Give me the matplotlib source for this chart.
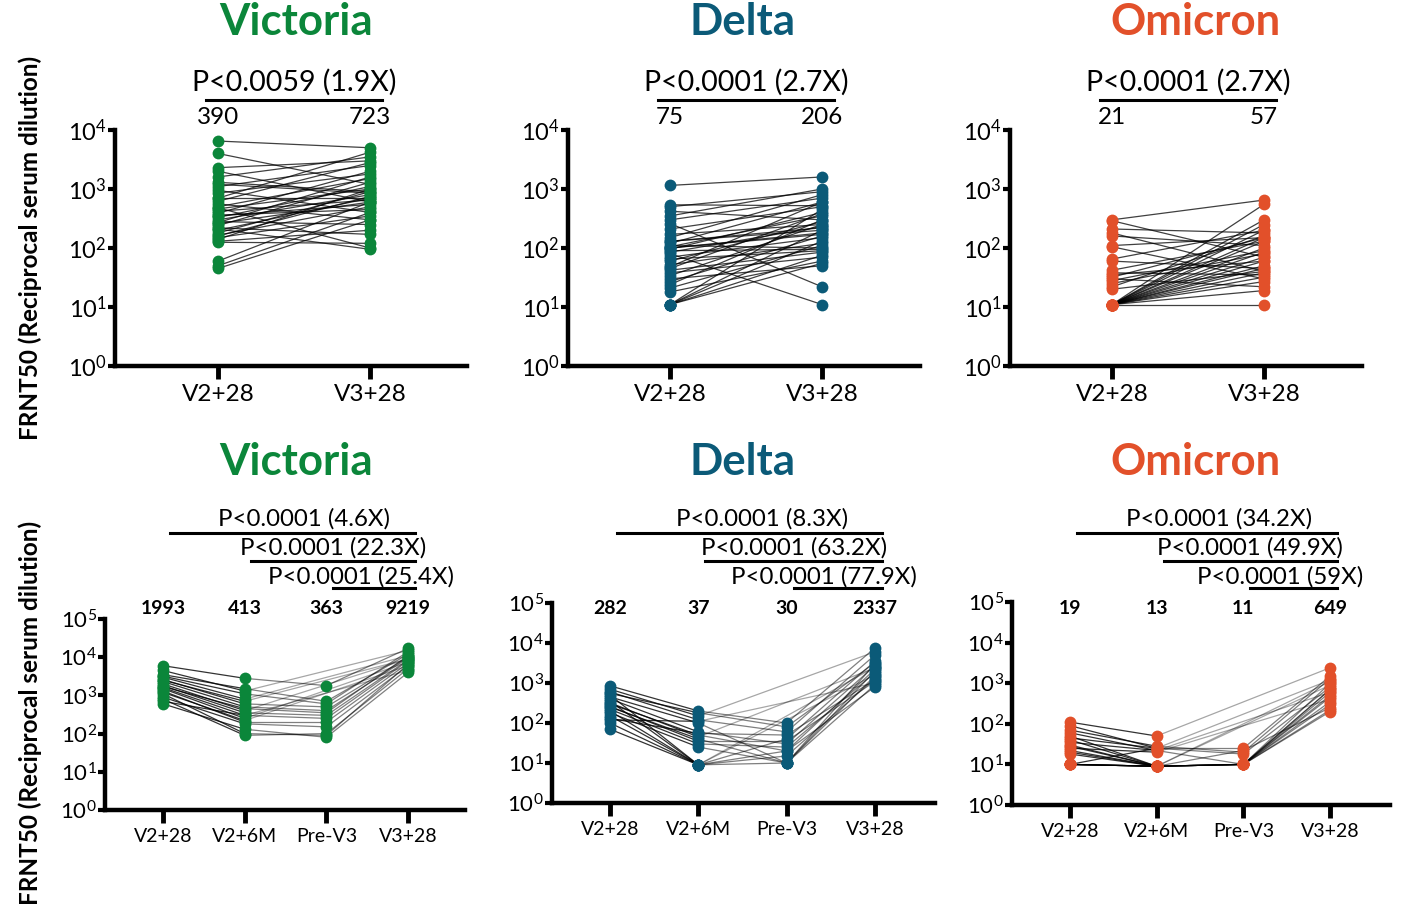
import numpy as np
import matplotlib
matplotlib.use('Agg')
from matplotlib import pyplot as plt
from matplotlib.ticker import NullLocator

plt.rcParams['font.family'] = ['Lato', 'DejaVu Sans']
plt.rcParams['mathtext.fontset'] = 'custom'
plt.rcParams['mathtext.rm'] = 'Lato'

W, H = 1411, 909
nan = np.nan

variants = ['Victoria', 'Delta', 'Omicron']
colors = {'Victoria': '#0b863a', 'Delta': '#0b5a78', 'Omicron': '#e2502a'}

top_labels = ['V2+28', 'V3+28']
bottom_labels = ['V2+28', 'V2+6M', 'Pre-V3', 'V3+28']

top_gmt = {'Victoria': ['390', '723'], 'Delta': ['75', '206'], 'Omicron': ['21', '57']}
top_p = {'Victoria': 'P<0.0059 (1.9X)', 'Delta': 'P<0.0001 (2.7X)', 'Omicron': 'P<0.0001 (2.7X)'}

bottom_gmt = {'Victoria': ['1993', '413', '363', '9219'],
              'Delta': ['282', '37', '30', '2337'],
              'Omicron': ['19', '13', '11', '649']}
bottom_p = {'Victoria': ['P<0.0001 (4.6X)', 'P<0.0001 (22.3X)', 'P<0.0001 (25.4X)'],
            'Delta': ['P<0.0001 (8.3X)', 'P<0.0001 (63.2X)', 'P<0.0001 (77.9X)'],
            'Omicron': ['P<0.0001 (34.2X)', 'P<0.0001 (49.9X)', 'P<0.0001 (59X)']}

# --- top row: paired V2+28 / V3+28 titres ---
vic_v2 = [6500, 4000, 2300, 2000, 1600, 1300, 1100, 950, 850, 700, 620, 560, 500, 460,
          420, 390, 360, 330, 300, 280, 260, 240, 220, 200, 180, 165, 150, 140, 130, 125,
          700, 480, 350, 270, 210, 160, 60, 50, 45, 1200]
vic_v3 = [5000, 1200, 3000, 600, 3500, 900, 2500, 400, 1800, 700, 2800, 300, 1500, 1000,
          650, 2000, 450, 1100, 800, 250, 600, 1300, 170, 700, 900, 500, 350, 1000, 200, 120,
          4200, 100, 550, 1600, 95, 750, 600, 400, 300, 850]

del_v2 = [1150, 540, 500, 420, 350, 300, 260, 210, 170, 150, 130, 120, 110, 105, 100, 95,
          90, 85, 80, 70, 60, 52, 48, 42, 38, 34, 30, 27, 24, 21, 18, 11, 11, 11, 11, 11,
          130, 100, 65, 45]
del_v3 = [1600, 520, 900, 300, 1000, 700, 22, 500, 250, 800, 200, 600, 100, 350, 180, 400,
          95, 230, 11, 150, 280, 120, 600, 85, 70, 250, 50, 160, 300, 110, 60, 200, 130, 75,
          450, 55, 220, 170, 90, 380]

omi_v2 = [300, 290, 210, 180, 160, 110, 105, 65, 60, 42, 38, 35, 32, 30, 28, 25, 22, 20,
          11, 11, 11, 11, 11, 11, 11, 11, 11, 11, 11, 11, 11, 11, 11, 11, 11]
omi_v3 = [650, 70, 180, 40, 110, 150, 30, 200, 45, 130, 35, 60, 150, 22, 90, 80, 160, 40,
          550, 300, 250, 200, 150, 130, 100, 85, 70, 60, 50, 45, 38, 32, 27, 19, 11]

# --- bottom row: longitudinal titres (nan = no Pre-V3 sample) ---
vic_b_v2 = [6000, 4500, 3500, 3000, 2600, 2300, 2000, 1800, 1600, 1500, 1300, 1100, 900,
            800, 700, 600, 3200, 2500, 1700, 1200]
vic_b_6m = [2800, 1300, 1500, 800, 600, 500, 400, 350, 300, 250, 200, 100, 180, 90, 300,
            130, 1100, 700, 450, 220]
vic_b_pre = [1800, nan, 700, nan, 500, 400, nan, 300, 250, nan, 200, 90, 150, 100, nan, 80,
             600, nan, 350, nan]
vic_b_v3 = [17000, 15000, 12000, 11000, 10000, 9500, 9000, 8500, 8000, 7500, 7000, 6500,
            6000, 5000, 4500, 4000, 14000, 9000, 11000, 6000]

del_b_v2 = [850, 700, 600, 500, 450, 400, 350, 300, 250, 220, 200, 180, 150, 130, 120, 100,
            70, 550, 320, 260]
del_b_6m = [200, 150, 120, 9, 100, 60, 9, 50, 40, 30, 9, 25, 9, 55, 110, 9, 9, 180, 45, 35]
del_b_pre = [100, nan, 60, 40, 10, 30, nan, 20, 10, 25, nan, 10, 15, 50, nan, 10, 20, 80,
             nan, 35]
del_b_v3 = [7500, 6000, 5000, 3500, 3000, 2700, 2500, 2200, 2000, 1800, 1600, 1500, 1300,
            1200, 1000, 900, 800, 3200, 2400, 1100]

omi_b_v2 = [110, 90, 70, 60, 50, 45, 40, 35, 30, 28, 25, 22, 20, 18, 10, 10, 10, 10, 10, 10]
omi_b_6m = [50, 25, 28, 22, 9, 25, 9, 22, 9, 9, 20, 9, 9, 9, 9, 9, 9, 25, 9, 9]
omi_b_pre = [nan, 25, 20, 10, nan, 18, 10, nan, 10, 10, nan, 10, 10, 22, 10, nan, 10, nan,
             10, 10]
omi_b_v3 = [2400, 1500, 1300, 1000, 900, 800, 700, 600, 500, 450, 400, 350, 300, 250, 220,
            1100, 600, 1200, 200, 700]

top_data = {'Victoria': (vic_v2, vic_v3), 'Delta': (del_v2, del_v3), 'Omicron': (omi_v2, omi_v3)}
bottom_data = {'Victoria': (vic_b_v2, vic_b_6m, vic_b_pre, vic_b_v3),
               'Delta': (del_b_v2, del_b_6m, del_b_pre, del_b_v3),
               'Omicron': (omi_b_v2, omi_b_6m, omi_b_pre, omi_b_v3)}

fig = plt.figure(figsize=(W / 100, H / 100), dpi=100)

# pixel boxes: left, top, right, bottom, first tick x, tick spacing
top_boxes = {'Victoria': (115, 130, 467, 366, 218, 152),
             'Delta': (568, 130, 920, 366, 670, 152),
             'Omicron': (1010, 130, 1362, 366, 1112, 152)}
bottom_boxes = {'Victoria': (105, 619, 465, 810, 163, 81.7),
                'Delta': (552, 603, 935, 803, 610, 88.3),
                'Omicron': (1012, 602, 1390, 805, 1070, 86.7)}
title_x = {'Victoria': 296, 'Delta': 742, 'Omicron': 1196}


def make_axes(box, n, ymax, ysize, xsize):
    l, t, r, b, x0, dx = box
    ax = fig.add_axes([l / W, 1 - b / H, (r - l) / W, (b - t) / H])
    ax.set_xlim(-(x0 - l) / dx, (r - x0) / dx)
    ax.set_yscale('log')
    ax.set_ylim(1, ymax)
    ax.set_yticks([10 ** k for k in range(int(np.log10(ymax)) + 1)])
    ax.yaxis.set_minor_locator(NullLocator())
    ax.set_xticks(range(n))
    for s in ['top', 'right']:
        ax.spines[s].set_visible(False)
    for s in ['left', 'bottom']:
        ax.spines[s].set_linewidth(3.2)
    ax.tick_params(axis='y', width=3, length=5, labelsize=ysize, pad=1)
    ax.tick_params(axis='x', width=3.5, length=9, labelsize=xsize, pad=4)
    ax.patch.set_alpha(0)
    return ax


def yfrac(box, ypix):
    l, t, r, b = box[:4]
    return (b - ypix) / (b - t)


for v in variants:
    c = colors[v]

    # top row
    box = top_boxes[v]
    ax = make_axes(box, 2, 1e4, 17, 17.5)
    ax.set_xticklabels(top_labels)
    v2, v3 = top_data[v]
    for a, b in zip(v2, v3):
        ax.plot([0, 1], [a, b], color='k', lw=0.9, alpha=0.75, zorder=2)
    ax.plot(np.zeros(len(v2)), v2, 'o', color=c, ms=8.5, mew=0, zorder=3, clip_on=False)
    ax.plot(np.ones(len(v3)), v3, 'o', color=c, ms=8.5, mew=0, zorder=3, clip_on=False)

    tr = ax.get_xaxis_transform()
    ax.plot([-0.08, 1.08], [yfrac(box, 100)] * 2, color='k', lw=2.2, transform=tr, clip_on=False)
    ax.text(0.5, yfrac(box, 82), top_p[v], transform=tr, ha='center', va='center', fontsize=20.5)
    for i, g in enumerate(top_gmt[v]):
        ax.text(i, yfrac(box, 118), g, transform=tr, ha='center', va='center', fontsize=17.5)
    fig.text(title_x[v] / W, 1 - 22 / H, v, ha='center', va='center', fontsize=31.5,
             fontweight='bold', color=c)

    # bottom row
    box = bottom_boxes[v]
    ax = make_axes(box, 4, 1e5, 16, 14)
    ax.set_xticklabels(bottom_labels)
    rows = np.array(bottom_data[v], dtype=float).T
    for row in rows:
        idx = [i for i in range(4) if not np.isnan(row[i])]
        for p, q in zip(idx[:-1], idx[1:]):
            alpha = 0.8 if p == 0 else (0.35 if q - p > 1 else 0.5)
            ax.plot([p, q], [row[p], row[q]], color='k', lw=0.9, alpha=alpha, zorder=2)
    for i in range(4):
        col = rows[:, i]
        col = col[~np.isnan(col)]
        ax.plot(np.full(len(col), i), col, 'o', color=c, ms=8.5, mew=0, zorder=3, clip_on=False)

    tr = ax.get_xaxis_transform()
    text_x = [1.72, 2.08, 2.42]
    line_y = [533, 561, 588]
    text_y = [519, 548, 577]
    for k in range(3):
        ax.plot([k + 0.08, 3.08], [yfrac(box, line_y[k])] * 2, color='k', lw=2.2,
                transform=tr, clip_on=False)
        ax.text(text_x[k], yfrac(box, text_y[k]), bottom_p[v][k], transform=tr,
                ha='center', va='center', fontsize=17.3)
    for i, g in enumerate(bottom_gmt[v]):
        ax.text(i, yfrac(box, 609), g, transform=tr, ha='center', va='center', fontsize=14,
                fontweight='bold')
    fig.text(title_x[v] / W, 1 - 462 / H, v, ha='center', va='center', fontsize=31.5,
             fontweight='bold', color=c)

for yc in [248, 713]:
    fig.text(30 / W, 1 - yc / H, 'FRNT50 (Reciprocal serum dilution)', rotation=90,
             ha='center', va='center', fontsize=17.5, fontweight='bold')

fig.savefig('out.png', dpi=100)
